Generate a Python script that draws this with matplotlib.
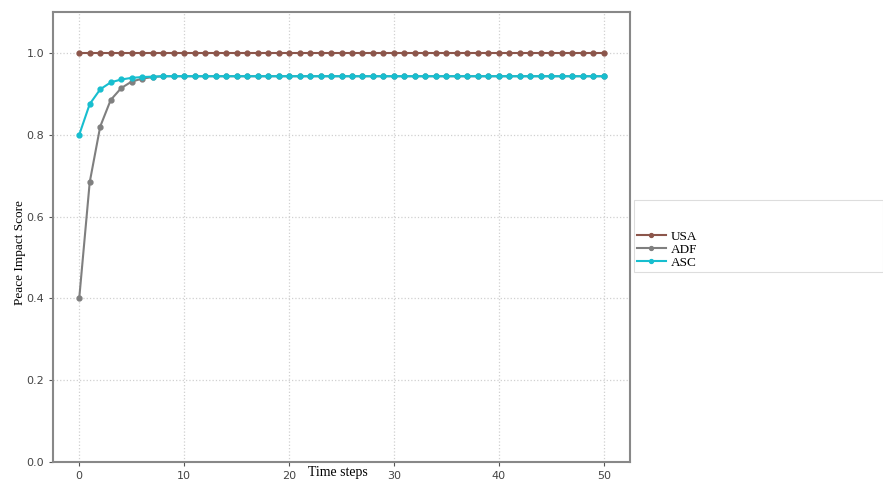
import matplotlib
matplotlib.use("Agg")
import matplotlib.pyplot as plt
from matplotlib.patches import Rectangle

time_steps = list(range(51))
usa = [1.0] * 51
adf = [0.40, 0.684, 0.82, 0.885, 0.914, 0.930, 0.937, 0.941, 0.943, 0.943] + [0.943] * 41
asc = [0.80, 0.875, 0.911, 0.928, 0.935, 0.939, 0.941, 0.942, 0.943, 0.943] + [0.943] * 41
series = [("USA", usa, "#8c564b"), ("ADF", adf, "#7f7f7f"), ("ASC", asc, "#17becf")]
x_ticks = [0, 10, 20, 30, 40, 50]
y_ticks = [0.0, 0.2, 0.4, 0.6, 0.8, 1.0]

W, H = 883, 486
fig = plt.figure(figsize=(W / 100, H / 100), dpi=100)
ax = fig.add_axes([53 / W, 1 - 462 / H, (630 - 53) / W, (462 - 12) / H])

lines = []
for name, vals, col in series:
    ln, = ax.plot(time_steps, vals, color=col, marker="o", markersize=3.5,
                  linewidth=1.5, label=name)
    lines.append(ln)

ax.set_xlim(-2.5, 52.5)
ax.set_ylim(0, 1.1)
ax.set_xticks(x_ticks)
ax.set_yticks(y_ticks)
ax.set_xticklabels([str(t) for t in x_ticks])
ax.set_yticklabels([f"{t:.1f}" for t in y_ticks])
ax.grid(True, linestyle=":", color="#d0d0d0", linewidth=0.9)
for s in ax.spines.values():
    s.set_color("#888888")
    s.set_linewidth(1.5)
ax.tick_params(colors="#555555", labelsize=8, length=3, width=0.8)
for lbl in ax.get_xticklabels() + ax.get_yticklabels():
    lbl.set_color("#444444")

fig.text(338 / W, 1 - 472 / H, "Time steps", family="Liberation Serif",
         fontsize=10, ha="center", va="center")
fig.text(20 / W, 1 - 253 / H, "Peace Impact Score", family="Liberation Serif",
         fontsize=9.5, ha="center", va="center", rotation=90)

fig.patches.append(Rectangle((634 / W, 1 - 272 / H), (W - 634) / W, 72 / H,
                             transform=fig.transFigure, fill=False,
                             edgecolor="#dddddd", linewidth=0.8))
fig.legend(handles=lines, loc="upper left",
           bbox_to_anchor=(634 / W, 1 - 228 / H), frameon=False,
           prop={"family": "Liberation Serif", "size": 9.5},
           handlelength=2.2, handletextpad=0.4, labelspacing=0.05,
           borderaxespad=0, borderpad=0.2, markerscale=0.8)

fig.savefig("out.png", dpi=100)
